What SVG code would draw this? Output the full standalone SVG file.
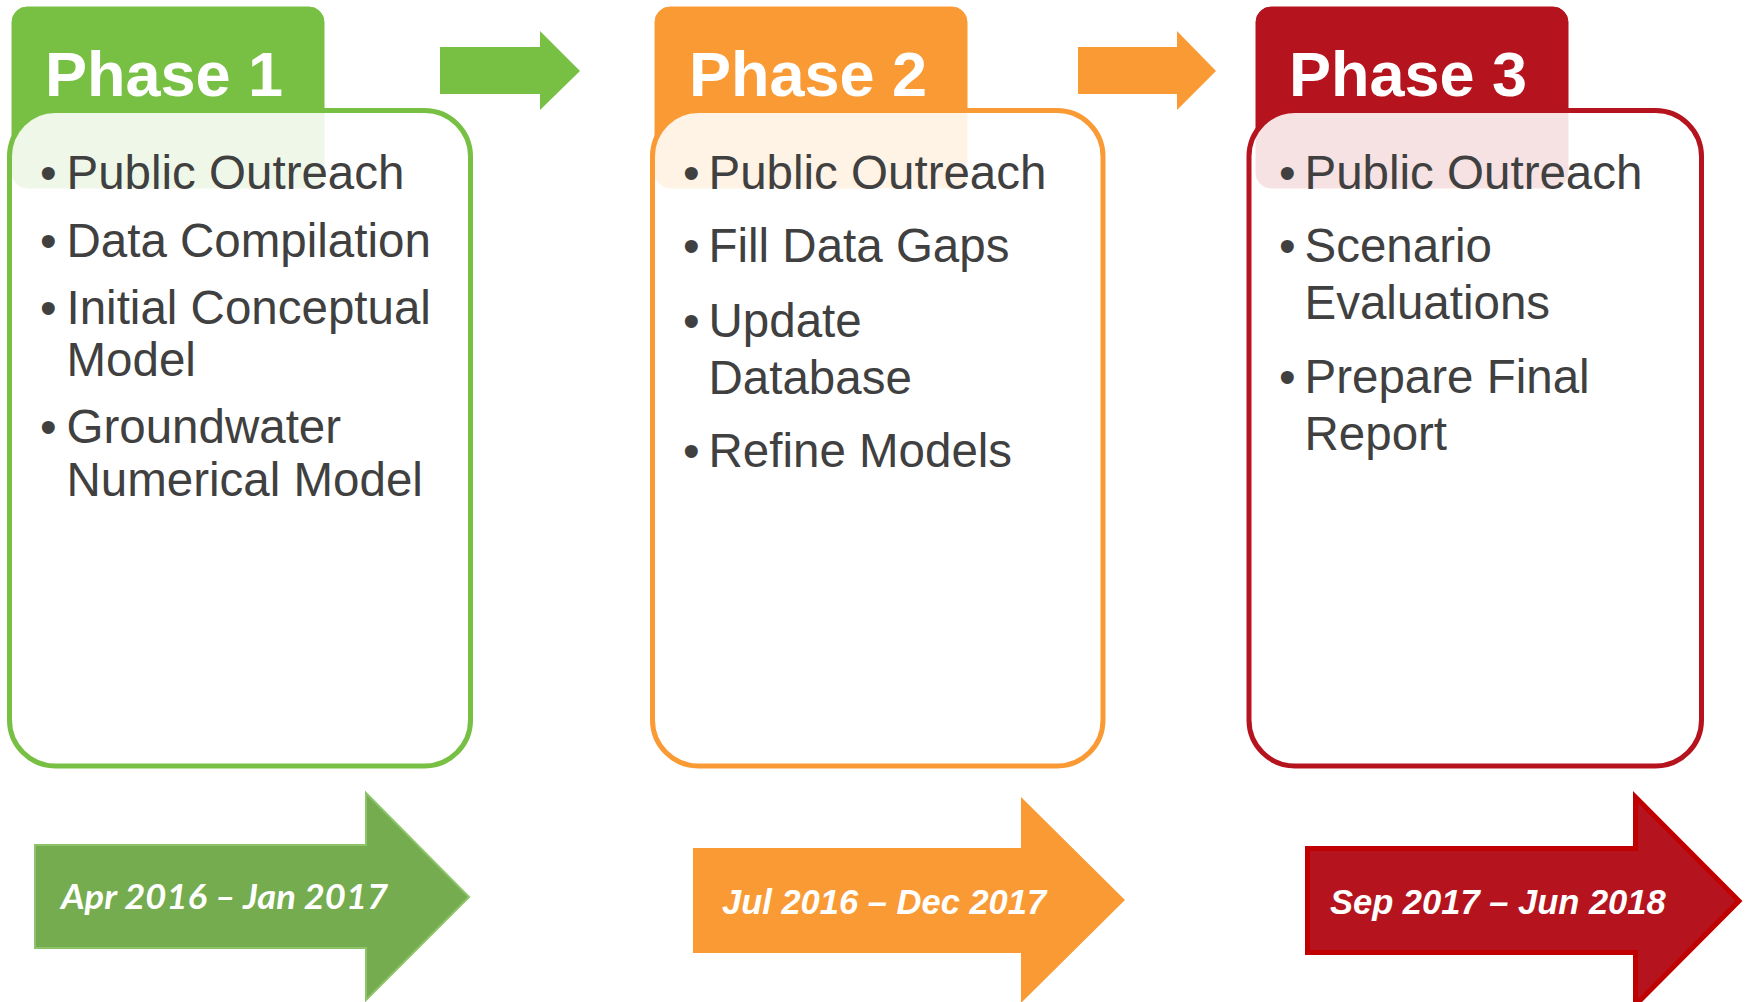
<svg xmlns="http://www.w3.org/2000/svg" width="1747" height="1002" viewBox="0 0 1747 1002">
  <style>
    .tab { stroke: none; }
    .box { fill: #ffffff; fill-opacity: 0.88; stroke-width: 5; }
    .title { font-family: "Liberation Sans", Arial, sans-serif; font-weight: bold; font-size: 63px; fill: #ffffff; }
    .item { font-family: "Liberation Sans", Arial, sans-serif; font-size: 47.5px; fill: #404040; }
    .date { font-family: "Liberation Sans", Arial, sans-serif; font-weight: bold; font-style: italic; font-size: 34.5px; fill: #ffffff; }
    .date1 { font-family: Lato, "Open Sans", sans-serif; font-weight: bold; font-style: italic; font-size: 34px; fill: #ffffff; }
    .g { fill: #78C043; stroke: #78C043; }
    .o { fill: #FA9A35; stroke: #FA9A35; }
    .r { fill: #B5131D; stroke: #B5131D; }
  </style>

  <g id="phase1">
    <rect class="tab g" x="12" y="7" width="312" height="181" rx="15"/>
    <text class="title" x="45" y="96">Phase 1</text>
    <rect class="box" x="9.5" y="110.5" width="461" height="655.5" rx="46" stroke="#78C043"/>
    <g class="item">
      <text x="40" y="189">•</text><text x="66.5" y="189">Public Outreach</text>
      <text x="40" y="257">•</text><text x="66.5" y="257">Data Compilation</text>
      <text x="40" y="324">•</text><text x="66.5" y="324">Initial Conceptual</text>
      <text x="66.5" y="376">Model</text>
      <text x="40" y="443">•</text><text x="66.5" y="443">Groundwater</text>
      <text x="66.5" y="496">Numerical Model</text>
    </g>
  </g>

  <g id="phase2">
    <rect class="tab o" x="655" y="7" width="312" height="181" rx="15"/>
    <text class="title" x="689" y="96">Phase 2</text>
    <rect class="box" x="652.5" y="110.5" width="450.5" height="655.5" rx="46" stroke="#FA9A35"/>
    <g class="item">
      <text x="683" y="189">•</text><text x="708.5" y="189">Public Outreach</text>
      <text x="683" y="262">•</text><text x="708.5" y="262">Fill Data Gaps</text>
      <text x="683" y="337">•</text><text x="708.5" y="337">Update</text>
      <text x="708.5" y="394">Database</text>
      <text x="683" y="467">•</text><text x="708.5" y="467">Refine Models</text>
    </g>
  </g>

  <g id="phase3">
    <rect class="tab r" x="1256" y="7" width="312" height="181" rx="15"/>
    <text class="title" x="1289" y="96">Phase 3</text>
    <rect class="box" x="1249" y="110.5" width="452.5" height="655.5" rx="46" stroke="#B5131D"/>
    <g class="item">
      <text x="1279" y="189">•</text><text x="1304.5" y="189">Public Outreach</text>
      <text x="1279" y="262">•</text><text x="1304.5" y="262">Scenario</text>
      <text x="1304.5" y="319">Evaluations</text>
      <text x="1279" y="393">•</text><text x="1304.5" y="393">Prepare Final</text>
      <text x="1304.5" y="450">Report</text>
    </g>
  </g>

  <g id="connectors">
    <path d="M440,47 H540 V31 L580,71 L540,110 V94 H440 Z" fill="#78C043"/>
    <path d="M1078,47 H1177 V31 L1216,71 L1177,110 V94 H1078 Z" fill="#FA9A35"/>
  </g>

  <g id="timeline1">
    <path d="M35,845 H366 V793 L469,897 L366,1000 V948 H35 Z" fill="#75AC4F" stroke="#8DC46A" stroke-width="2"/>
    <text class="date1" x="61" y="909" textLength="327" lengthAdjust="spacingAndGlyphs">Apr 2016 – Jan 2017</text>
  </g>

  <g id="timeline2">
    <path d="M693,848 H1021 V797 L1125,900 L1021,1003 V953 H693 Z" fill="#FA9A35"/>
    <text class="date" x="722" y="914">Jul 2016 – Dec 2017</text>
  </g>

  <g id="timeline3">
    <path d="M1307.5,848.5 H1635.5 V797 L1739,901 L1635.5,1005 V952.5 H1307.5 Z" fill="#B5141E" stroke="#C00000" stroke-width="5"/>
    <text class="date" x="1330" y="914">Sep 2017 – Jun 2018</text>
  </g>
</svg>
